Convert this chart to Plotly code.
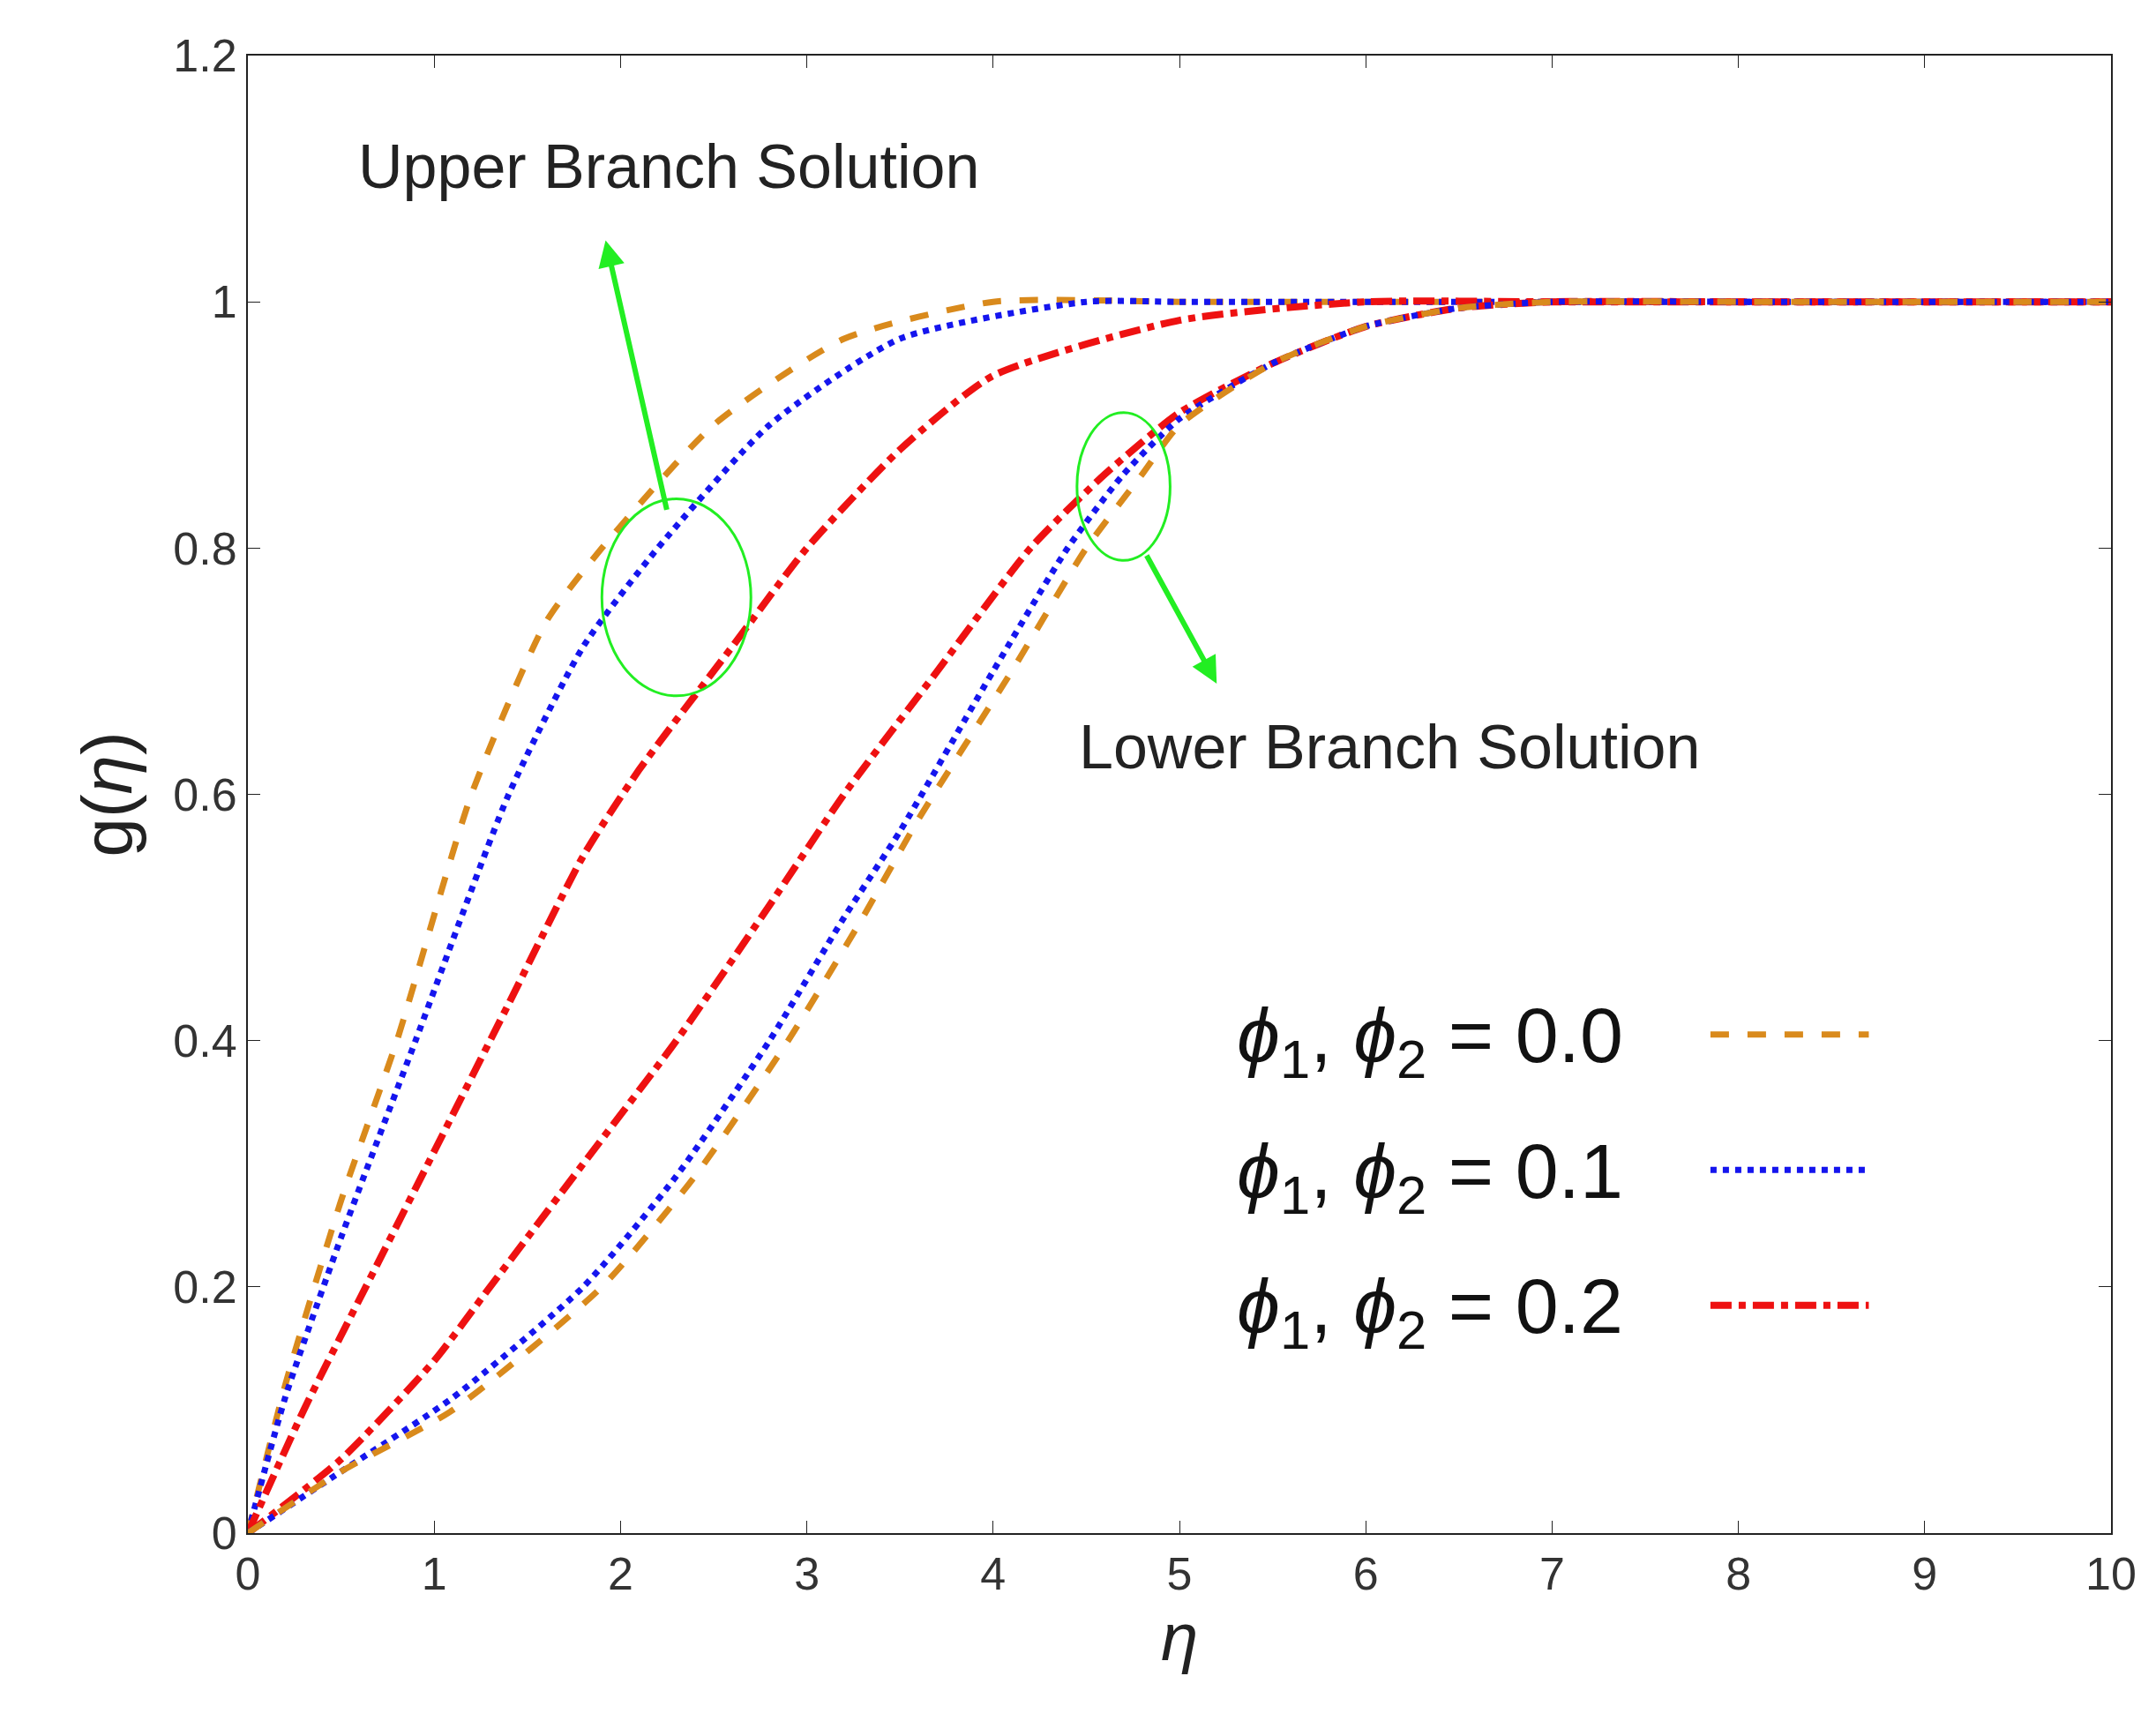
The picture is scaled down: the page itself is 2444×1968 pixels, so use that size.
import plotly.graph_objects as go

eta_u0 = [0, 0.2, 0.5, 0.8, 1.2, 1.6, 1.9, 2.5, 3.2, 4.0, 5, 6, 7, 8, 9, 10]
g_u0 = [0, 0.12, 0.27, 0.40, 0.60, 0.74, 0.80, 0.90, 0.97, 1.0, 1.0, 1.0, 1.0, 1.0, 1.0, 1.0]
eta_u1 = [0, 0.2, 0.5, 0.9, 1.4, 1.8, 2.2, 2.8, 3.5, 4.5, 5, 6, 7, 8, 9, 10]
g_u1 = [0, 0.11, 0.24, 0.40, 0.60, 0.72, 0.80, 0.90, 0.97, 1.0, 1.0, 1.0, 1.0, 1.0, 1.0, 1.0]
eta_u2 = [0, 0.3, 0.7, 1.0, 1.4, 1.8, 2.1, 2.6, 3.0, 3.5, 4.0, 5.0, 6.0, 7, 8, 9, 10]
g_u2 = [0, 0.10, 0.22, 0.31, 0.43, 0.55, 0.62, 0.72, 0.80, 0.88, 0.94, 0.985, 1.0, 1.0, 1.0, 1.0, 1.0]
eta_l2 = [0, 0.5, 1.0, 1.3, 1.8, 2.3, 2.8, 3.2, 3.7, 4.2, 4.6, 5.0, 5.5, 6.0, 6.5, 7, 8, 9, 10]
g_l2 = [0, 0.06, 0.14, 0.20, 0.30, 0.40, 0.51, 0.60, 0.70, 0.80, 0.86, 0.91, 0.95, 0.98, 0.995, 1.0, 1.0, 1.0, 1.0]
eta_l1 = [0, 0.5, 1.1, 1.8, 2.3, 2.8, 3.2, 3.5, 4.0, 4.4, 4.7, 5.0, 5.5, 6.0, 6.5, 7, 8, 9, 10]
g_l1 = [0, 0.05, 0.11, 0.20, 0.29, 0.40, 0.50, 0.57, 0.70, 0.80, 0.86, 0.905, 0.95, 0.98, 0.995, 1.0, 1.0, 1.0, 1.0]
eta_l0 = [0, 0.5, 1.1, 1.9, 2.4, 2.9, 3.3, 3.6, 4.1, 4.5, 4.8, 5.0, 5.5, 6.0, 6.5, 7, 8, 9, 10]
g_l0 = [0, 0.05, 0.10, 0.20, 0.29, 0.40, 0.50, 0.58, 0.70, 0.80, 0.86, 0.90, 0.95, 0.98, 0.995, 1.0, 1.0, 1.0, 1.0]

ORANGE = "#d98a1c"; BLUE = "#1515ee"; RED = "#ee1111"; GREEN = "#22ee22"
styles = {"0.0": (ORANGE, "dash", 7), "0.1": (BLUE, "dot", 7), "0.2": (RED, "dashdot", 8)}
series = [("0.0", eta_u0, g_u0), ("0.1", eta_u1, g_u1), ("0.2", eta_u2, g_u2),
          ("0.2", eta_l2, g_l2), ("0.1", eta_l1, g_l1), ("0.0", eta_l0, g_l0)]

fig = go.Figure()
for k, x, y in series:
    c, d, w = styles[k]
    fig.add_trace(go.Scatter(x=x, y=y, mode="lines",
                             line=dict(color=c, dash=d, width=w, shape="spline", smoothing=0.6),
                             showlegend=False))

shapes = [
    dict(type="circle", xref="x", yref="y", x0=1.9, x1=2.7, y0=0.68, y1=0.84, line=dict(color=GREEN, width=3)),
    dict(type="circle", xref="x", yref="y", x0=4.45, x1=4.95, y0=0.79, y1=0.91, line=dict(color=GREEN, width=3)),
]
annotations = [
    dict(x=1.92, y=1.05, ax=2.25, ay=0.83, xref="x", yref="y", axref="x", ayref="y", text="",
         showarrow=True, arrowcolor=GREEN, arrowwidth=6, arrowhead=2, arrowsize=1),
    dict(x=5.2, y=0.69, ax=4.82, ay=0.795, xref="x", yref="y", axref="x", ayref="y", text="",
         showarrow=True, arrowcolor=GREEN, arrowwidth=6, arrowhead=2, arrowsize=1),
    dict(x=0.58, y=1.11, xref="x", yref="y", text="Upper Branch Solution", showarrow=False,
         xanchor="left", font=dict(size=70, color="#222")),
    dict(x=4.45, y=0.638, xref="x", yref="y", text="Lower Branch Solution", showarrow=False,
         xanchor="left", font=dict(size=70, color="#222")),
]
leg_y = [0.4, 0.29, 0.18]
for (k, yy) in zip(["0.0", "0.1", "0.2"], leg_y):
    c, d, w = styles[k]
    annotations.append(dict(x=5.3, y=yy, xref="x", yref="y", xanchor="left", showarrow=False,
                            text=f"<i>ϕ</i><sub>1</sub>, <i>ϕ</i><sub>2</sub> = {k}",
                            font=dict(size=88, color="#111")))
    shapes.append(dict(type="line", xref="x", yref="y", x0=7.85, x1=8.7, y0=yy + 0.005, y1=yy + 0.005,
                       line=dict(color=c, dash=d, width=w)))

axis = dict(showline=True, mirror="ticks", linecolor="#222", linewidth=2, ticks="inside", ticklen=14,
            tickcolor="#222", showgrid=False, zeroline=False, tickfont=dict(size=52, color="#333"))
fig.update_layout(
    width=2444, height=1968, plot_bgcolor="white", paper_bgcolor="white",
    font=dict(family="Liberation Sans, Arial"),
    margin=dict(l=273, r=59, t=55, b=238),
    shapes=shapes, annotations=annotations,
    xaxis=dict(axis, range=[0, 10], dtick=1,
               title=dict(text="<i>η</i>", font=dict(size=76, color="#222"), standoff=15)),
    yaxis=dict(axis, range=[0, 1.2], tickvals=[0, 0.2, 0.4, 0.6, 0.8, 1, 1.2],
               ticktext=["0", "0.2", "0.4", "0.6", "0.8", "1", "1.2"],
               title=dict(text="g(<i>η</i>)", font=dict(size=80, color="#222"), standoff=20)),
)
fig.write_html("out.html")
